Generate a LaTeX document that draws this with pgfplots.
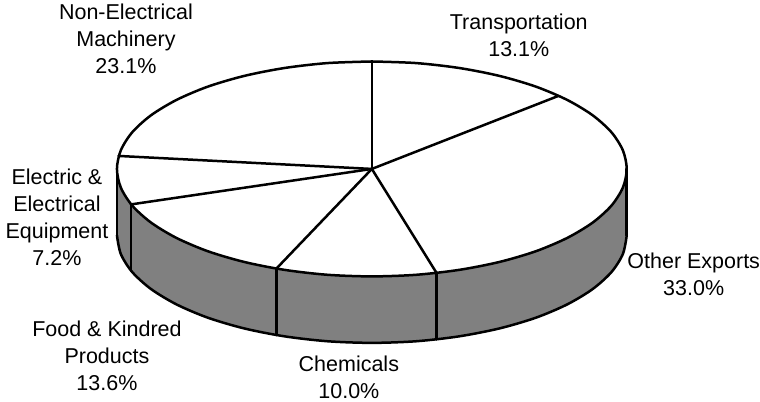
\documentclass[border=0pt]{standalone}
\usepackage{pgfplots}
\pgfplotsset{compat=1.18}
\usepackage{fontspec}
\setmainfont{Liberation Sans}
\begin{document}
\begin{tikzpicture}
\begin{axis}[
  hide axis, scale only axis, width=760pt, height=402pt,
  xmin=0, xmax=760, ymin=0, ymax=402, y dir=reverse, clip=false,
  every axis plot/.append style={line width=2.5pt, line join=round, line cap=round}
]
% side wall
\addplot[fill={rgb,255:red,128;green,128;blue,128}, draw=none] coordinates {
(627,169)(627,235.5)(623.1,254.2)(611.6,272.3)(592.8,289.25)(567.3,304.6)(535.9,317.9)(499.5,328.6)(459.2,336.5)(416.3,341.4)(372,343)(327.7,341.4)(284.8,336.5)(244.5,328.6)(208.1,317.9)(176.7,304.6)(151.2,289.25)(132.4,272.3)(120.9,254.2)(117,235.5)(117,169)};
% top ellipse
\addplot[smooth, fill=white, draw=black] coordinates {
(372,61.5)(416.3,63.1)(459.2,68)(499.5,75.9)(535.9,86.6)(567.3,99.9)(592.8,115.25)(611.6,132.2)(623.1,150.3)(627,169)(623.1,187.7)(611.6,205.8)(592.8,222.75)(567.3,238.1)(535.9,251.4)(499.5,262.1)(459.2,270)(416.3,274.9)(372,276.5)(327.7,274.9)(284.8,270)(244.5,262.1)(208.1,251.4)(176.7,238.1)(151.2,222.75)(132.4,205.8)(120.9,187.7)(117,169)(120.9,150.3)(132.4,132.2)(151.2,115.25)(176.7,99.9)(208.1,86.6)(244.5,75.9)(284.8,68)(327.7,63.1)(372,61.5)};
% lower rim
\addplot[smooth, draw=black] coordinates {
(627,235.5)(623.1,254.2)(611.6,272.3)(592.8,289.25)(567.3,304.6)(535.9,317.9)(499.5,328.6)(459.2,336.5)(416.3,341.4)(372,343)(327.7,341.4)(284.8,336.5)(244.5,328.6)(208.1,317.9)(176.7,304.6)(151.2,289.25)(132.4,272.3)(120.9,254.2)(117,235.5)};
% vertical edges
\addplot[black] coordinates {(627,169)(627,235.5)};
\addplot[black] coordinates {(117,169)(117,235.5)};
\addplot[black] coordinates {(436.7,273)(436.7,339.5)};
\addplot[black] coordinates {(276.5,268.7)(276.5,335.2)};
\addplot[black] coordinates {(131,204.5)(131,271)};
% spokes
\addplot[black] coordinates {(372,61.5)(372,169)};
\addplot[black] coordinates {(558.5,96)(372,169)};
\addplot[black] coordinates {(436.7,273)(372,169)};
\addplot[black] coordinates {(276.5,268.7)(372,169)};
\addplot[black] coordinates {(131,204.5)(372,169)};
\addplot[black] coordinates {(118.5,156)(372,169)};
% labels
\pgfplotsextra{
\tikzset{lab/.style={font=\fontsize{21.5}{27}\selectfont, align=center, anchor=center, inner sep=0pt, text=black}}
\path (axis cs:0,0) (axis cs:760,402);
\node[lab] at (axis cs:126,38.5) {Non-Electrical\\Machinery\\23.1\%};
\node[lab] at (axis cs:519,35.5) {Transportation\\13.1\%};
\node[lab] at (axis cs:57,217) {Electric \&\\Electrical\\Equipment\\7.2\%};
\node[lab] at (axis cs:694,274.5) {Other Exports\\33.0\%};
\node[lab] at (axis cs:107,356) {Food \& Kindred\\Products\\13.6\%};
\node[lab] at (axis cs:349,377.5) {Chemicals\\10.0\%};
}
\end{axis}
\end{tikzpicture}
\end{document}
